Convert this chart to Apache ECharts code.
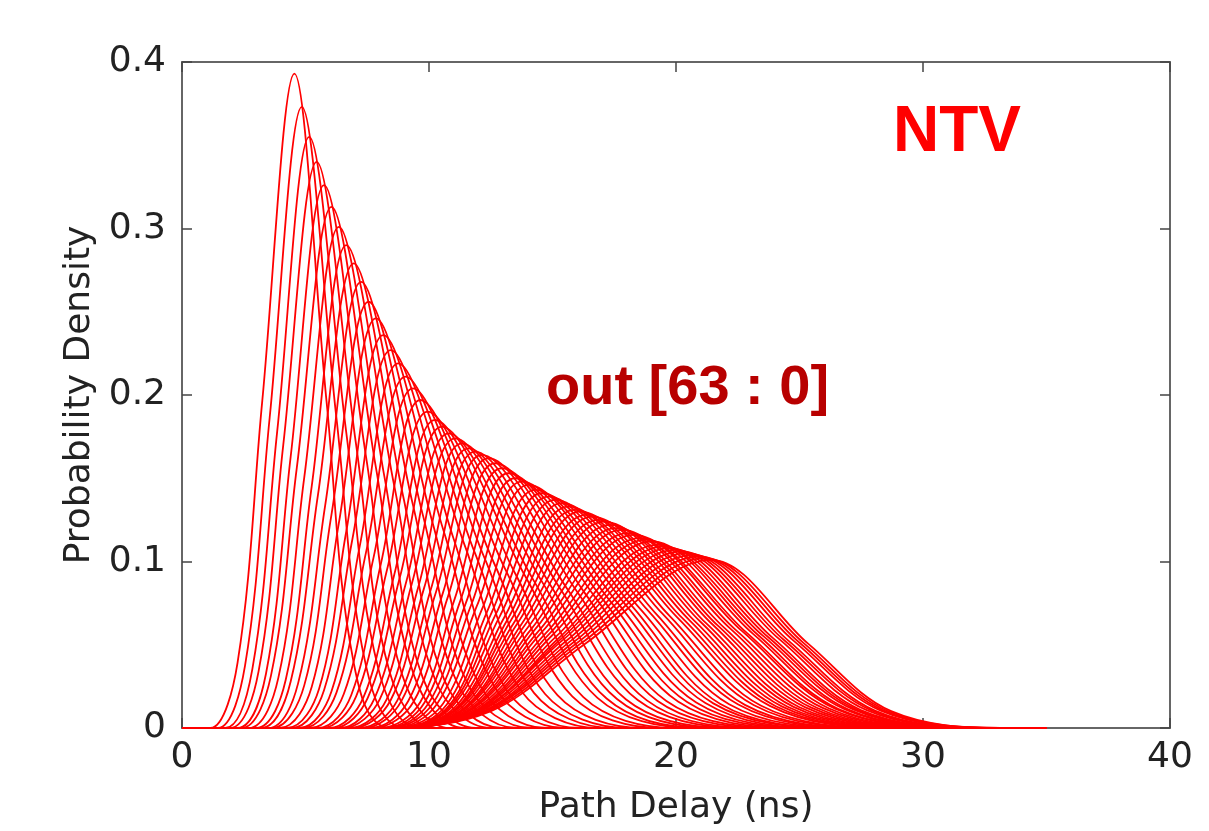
<!DOCTYPE html>
<html>
<head>
<meta charset="utf-8">
<title>Path Delay</title>
<script src="https://cdn.jsdelivr.net/npm/echarts@6/dist/echarts.min.js"></script>
<style>
    html, body { margin: 0; padding: 0; background: #fff; }
    #chartDom { width: 1209px; height: 831px; }
</style>
</head>
<body>
<div id="chartDom"></div>
<script>
// x range of every curve (ns), curves lie on y = 0 outside their bump
let xRange = [0, 35];
let xTicks = [0, 10, 20, 30, 40];
let yTicks = [0, 0.1, 0.2, 0.3, 0.4];

// peak of each curve out[0] .. out[63]
let peakX = [4.55, 4.85, 5.15, 5.45, 5.75, 6.05, 6.35, 6.65, 6.95, 7.25,
    7.55, 7.85, 8.15, 8.45, 8.75, 9.05, 9.35, 9.65, 9.95, 10.25,
    10.52, 10.79, 11.06, 11.33, 11.6, 11.87, 12.14, 12.41, 12.68, 12.95,
    13.22, 13.49, 13.76, 14.03, 14.3, 14.57, 14.84, 15.11, 15.38, 15.65,
    15.89, 16.13, 16.37, 16.61, 16.85, 17.09, 17.33, 17.57, 17.81, 18.05,
    18.29, 18.53, 18.77, 19.01, 19.25, 19.49, 19.73, 19.97, 20.21, 20.45,
    20.69, 20.93, 21.17, 21.41];
let peakY = [0.393, 0.373, 0.355, 0.340, 0.326, 0.313, 0.301, 0.290, 0.279, 0.268,
    0.256, 0.246, 0.236, 0.227, 0.219, 0.211, 0.204, 0.197, 0.190, 0.185,
    0.181, 0.177, 0.174, 0.171, 0.168, 0.166, 0.164, 0.162, 0.159, 0.156,
    0.153, 0.150, 0.148, 0.146, 0.143, 0.141, 0.139, 0.137, 0.135, 0.133,
    0.131, 0.130, 0.128, 0.127, 0.125, 0.124, 0.122, 0.120, 0.119, 0.117,
    0.116, 0.114, 0.113, 0.112, 0.110, 0.109, 0.108, 0.107, 0.106, 0.105,
    0.104, 0.103, 0.102, 0.101];

// distance (ns) from the peak to the left side at half height, tenth height and foot
let leftHalf = [1.3, 1.3, 1.3, 1.35, 1.35, 1.4, 1.4, 1.4, 1.45, 1.45,
    1.5, 1.5, 1.5, 1.55, 1.55, 1.6, 1.6, 1.6, 1.65, 1.65,
    1.7, 1.7, 1.75, 1.75, 1.8, 1.8, 1.85, 1.85, 1.9, 1.9,
    1.95, 2.0, 2.05, 2.1, 2.15, 2.2, 2.3, 2.4, 2.5, 2.6,
    2.7, 2.8, 2.9, 3.0, 3.1, 3.2, 3.3, 3.4, 3.5, 3.6,
    3.7, 3.8, 3.9, 4.0, 4.1, 4.2, 4.35, 4.5, 4.6, 4.7,
    4.8, 4.9, 5.0, 5.1];
let leftTenth = [2.3, 2.3, 2.3, 2.35, 2.35, 2.45, 2.45, 2.45, 2.55, 2.55,
    2.6, 2.6, 2.6, 2.7, 2.7, 2.8, 2.8, 2.8, 2.9, 2.9,
    3.0, 3.0, 3.05, 3.05, 3.15, 3.15, 3.25, 3.25, 3.3, 3.3,
    3.4, 3.5, 3.6, 3.7, 3.75, 3.85, 4.0, 4.2, 4.4, 4.55,
    4.7, 4.9, 5.1, 5.25, 5.4, 5.6, 5.8, 5.95, 6.1, 6.3,
    6.5, 6.65, 6.8, 7.0, 7.2, 7.35, 7.6, 7.9, 8.05, 8.2,
    8.4, 8.6, 8.75, 8.9];
let leftFoot = [3.4, 3.4, 3.4, 3.5, 3.5, 3.65, 3.65, 3.65, 3.75, 3.75,
    3.9, 3.9, 3.9, 4.0, 4.0, 4.15, 4.15, 4.15, 4.3, 4.3,
    4.4, 4.4, 4.55, 4.55, 4.7, 4.7, 4.8, 4.8, 4.95, 4.95,
    5.05, 5.2, 5.35, 5.45, 5.6, 5.7, 6.0, 6.25, 6.5, 6.75,
    7.0, 7.3, 7.55, 7.8, 8.05, 8.3, 8.6, 8.85, 9.1, 9.35,
    9.6, 9.9, 10.15, 10.4, 10.65, 10.9, 11.3, 11.7, 11.95, 12.2,
    12.5, 12.75, 13.0, 13.25];

// same on the right side (the long tail)
let rightHalf = [1.3, 1.4, 1.5, 1.6, 1.7, 1.8, 1.85, 1.95, 2.0, 2.1,
    2.2, 2.3, 2.45, 2.55, 2.7, 2.8, 2.9, 3.0, 3.15, 3.25,
    3.4, 3.45, 3.55, 3.6, 3.7, 3.75, 3.85, 3.9, 4.0, 4.05,
    4.1, 4.15, 4.2, 4.2, 4.25, 4.3, 4.3, 4.35, 4.35, 4.4,
    4.4, 4.4, 4.4, 4.4, 4.4, 4.4, 4.4, 4.4, 4.4, 4.4,
    4.4, 4.35, 4.35, 4.3, 4.3, 4.25, 4.2, 4.2, 4.15, 4.1,
    4.1, 4.05, 4.0, 3.95];
let rightTenth = [2.4, 2.6, 2.8, 2.95, 3.15, 3.35, 3.4, 3.6, 3.7, 3.9,
    4.05, 4.25, 4.55, 4.7, 5.0, 5.2, 5.35, 5.55, 5.85, 6.0,
    6.3, 6.4, 6.55, 6.65, 6.85, 6.95, 7.1, 7.2, 7.4, 7.5,
    7.6, 7.7, 7.75, 7.75, 7.85, 7.95, 7.95, 8.05, 8.05, 8.15,
    8.15, 8.15, 8.15, 8.15, 8.15, 8.15, 8.15, 8.15, 8.15, 8.15,
    8.15, 8.05, 8.05, 7.95, 7.95, 7.85, 7.75, 7.75, 7.7, 7.6,
    7.6, 7.5, 7.4, 7.3];
let rightFoot = [3.9, 4.2, 4.5, 4.8, 5.1, 5.4, 5.55, 5.85, 6.0, 6.3,
    6.6, 6.9, 7.35, 7.65, 8.1, 8.4, 8.7, 9.0, 9.45, 9.75,
    10.2, 10.35, 10.65, 10.8, 11.1, 11.25, 11.55, 11.7, 12.0, 12.15,
    12.3, 12.45, 12.6, 12.6, 12.75, 12.9, 12.9, 13.05, 13.05, 13.2,
    13.2, 13.2, 13.2, 13.2, 13.2, 13.2, 13.2, 13.2, 13.2, 13.2,
    13.2, 13.05, 13.05, 12.9, 12.9, 12.75, 12.6, 12.6, 12.45, 12.3,
    12.3, 12.15, 12.0, 11.85];

window.onload = function () {
    let chartDom = document.getElementById('chartDom');
    let chart = echarts.init(chartDom, null, { renderer: 'canvas' });

    let series = [];
    for (let k = 0; k < peakX.length; k++) {
        let px = peakX[k], py = peakY[k];
        series.push({
            name: 'out[' + k + ']',
            type: 'line',
            data: [
                [xRange[0], 0],
                [px - leftFoot[k], 0],
                [px - leftTenth[k], py * 0.1],
                [px - leftHalf[k], py * 0.5],
                [px, py],
                [px + rightHalf[k], py * 0.5],
                [px + rightTenth[k], py * 0.1],
                [px + rightFoot[k], 0],
                [xRange[1], 0]
            ],
            smooth: 0.35,
            showSymbol: false,
            silent: true,
            lineStyle: { color: '#ff0000', width: 1.8 },
            z: 2
        });
    }

    let axisText = { color: '#222', fontFamily: 'DejaVu Sans', fontSize: 36 };
    let boxLine = { show: true, onZero: false, lineStyle: { color: '#666', width: 2 } };
    let tick = { show: true, inside: true, length: 10, lineStyle: { color: '#444', width: 1.5 } };

    let option = {
        animation: false,
        backgroundColor: '#fff',
        grid: { left: 182, right: 39, top: 62, bottom: 100, containLabel: false },
        xAxis: [
            {
                type: 'value',
                min: xTicks[0],
                max: xTicks[xTicks.length - 1],
                interval: 10,
                position: 'bottom',
                axisLine: boxLine,
                axisTick: tick,
                splitLine: { show: false },
                axisLabel: Object.assign({ margin: 12 }, axisText),
                name: 'Path Delay (ns)',
                nameLocation: 'middle',
                nameGap: 62,
                nameTextStyle: { color: '#222', fontFamily: 'DejaVu Sans', fontSize: 36 }
            },
            {
                type: 'value',
                min: xTicks[0],
                max: xTicks[xTicks.length - 1],
                interval: 10,
                position: 'top',
                axisLine: boxLine,
                axisTick: tick,
                splitLine: { show: false },
                axisLabel: { show: false }
            }
        ],
        yAxis: [
            {
                type: 'value',
                min: yTicks[0],
                max: yTicks[yTicks.length - 1],
                interval: 0.1,
                position: 'left',
                axisLine: boxLine,
                axisTick: tick,
                splitLine: { show: false },
                axisLabel: Object.assign({ margin: 16 }, axisText),
                name: 'Probability Density',
                nameLocation: 'middle',
                nameGap: 84,
                nameTextStyle: { color: '#222', fontFamily: 'DejaVu Sans', fontSize: 36 }
            },
            {
                type: 'value',
                min: yTicks[0],
                max: yTicks[yTicks.length - 1],
                interval: 0.1,
                position: 'right',
                axisLine: boxLine,
                axisTick: tick,
                splitLine: { show: false },
                axisLabel: { show: false }
            }
        ],
        graphic: [
            {
                type: 'text',
                left: 893,
                top: 101,
                style: {
                    text: 'NTV',
                    fill: '#ff0000',
                    font: 'bold 64px "Liberation Sans"'
                }
            },
            {
                type: 'text',
                left: 546,
                top: 361,
                style: {
                    text: 'out [63 : 0]',
                    fill: '#b80000',
                    font: 'bold 56px "Liberation Sans"'
                }
            }
        ],
        series: series
    };

    chart.setOption(option);
}
</script>
</body>
</html>
